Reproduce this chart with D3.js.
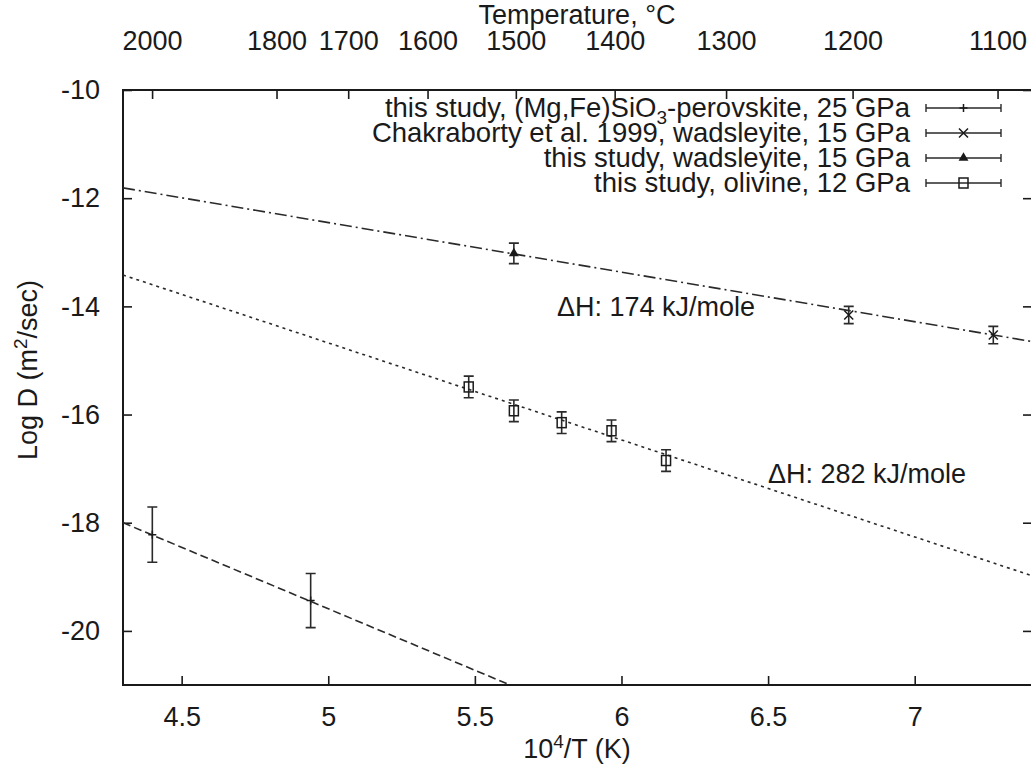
<html>
<head>
<meta charset="utf-8">
<style>
 body { margin: 0; background: #fff; }
 svg { font-family: "Liberation Sans", Arial, Helvetica, sans-serif; }
 .ax text { font-size: 27px; fill: #1a1a1a; }
 .ax path { display: none; }
 .ax line { stroke: #1a1a1a; stroke-width: 1.6; }
</style>
<script src="https://cdn.jsdelivr.net/npm/d3@7"></script>
</head>
<body>
<svg id="chart" width="1031" height="767"></svg>
<script>
// data (x = 10^4/T, y = log D)
var perovX = [4.40, 4.94];
var perovY = [-18.22, -19.44];
var perovErr = [0.51, 0.50];

var chakX = [6.775, 7.268];
var chakY = [-14.16, -14.53];
var chakErr = [0.16, 0.16];

var wadsX = [5.633];
var wadsY = [-13.02];
var wadsErr = [0.19];

var olivX = [5.479, 5.633, 5.796, 5.966, 6.152];
var olivY = [-15.49, -15.93, -16.15, -16.30, -16.85];
var olivErr = [0.20, 0.20, 0.20, 0.20, 0.20];

// fitted lines, end points
var perovFitX = [4.3, 5.62], perovFitY = [-18.0, -21.0];
var wadsFitX = [4.3, 7.4], wadsFitY = [-11.81, -14.65];
var olivFitX = [4.3, 7.4], olivFitY = [-13.42, -18.98];

var xTicks = [4.5, 5, 5.5, 6, 6.5, 7];
var yTicks = [-10, -12, -14, -16, -18, -20];
var tempTicks = [2000, 1800, 1700, 1600, 1500, 1400, 1300, 1200, 1100];

var legendLabels = [
  'this study, (Mg,Fe)SiO<sub>3</sub>-perovskite, 25 GPa',
  'Chakraborty et al. 1999, wadsleyite, 15 GPa',
  'this study, wadsleyite, 15 GPa',
  'this study, olivine, 12 GPa'
];

var mLeft = 123, mRight = 1032, mTop = 90, mBottom = 685;
var ink = '#1a1a1a';

var svg = d3.select('#chart');
var x = d3.scaleLinear().domain([4.3, 7.4]).range([mLeft, mRight]);
var y = d3.scaleLinear().domain([-10, -21]).range([mTop, mBottom]);
function invT(c) { return 1e4 / (c + 273.15); }

svg.append('defs').append('clipPath').attr('id', 'plotclip')
   .append('rect').attr('x', mLeft).attr('y', mTop)
   .attr('width', mRight - mLeft).attr('height', mBottom - mTop);

// axes, ticks pointing inward
svg.append('g').attr('class', 'ax').attr('transform', 'translate(0,' + mBottom + ')')
   .call(d3.axisBottom(x).tickValues(xTicks).tickSizeInner(-9).tickPadding(22)
     .tickFormat(String));
svg.append('g').attr('class', 'ax').attr('transform', 'translate(' + mLeft + ',0)')
   .call(d3.axisLeft(y).tickValues(yTicks).tickSizeInner(-9).tickPadding(23)
     .tickFormat(String));
svg.append('g').attr('class', 'ax').attr('transform', 'translate(' + mRight + ',0)')
   .call(d3.axisRight(y).tickValues(yTicks).tickSizeInner(-9).tickFormat(''));
var topAx = d3.axisTop(x).tickValues(tempTicks.map(invT)).tickSizeInner(-9).tickPadding(40)
   .tickFormat(function(d, i) { return tempTicks[i]; });
svg.append('g').attr('class', 'ax').attr('transform', 'translate(0,' + mTop + ')').call(topAx);

svg.append('rect').attr('x', mLeft).attr('y', mTop)
   .attr('width', mRight - mLeft).attr('height', mBottom - mTop)
   .attr('fill', 'none').attr('stroke', ink).attr('stroke-width', 2);

// axis titles
svg.append('text').attr('x', (mLeft + 1031) / 2).attr('y', 24).attr('text-anchor', 'middle')
   .style('font-size', '27px').attr('fill', ink).text('Temperature, \u00B0C');
var xt = svg.append('text').attr('x', (mLeft + 1031) / 2).attr('y', 758).attr('text-anchor', 'middle')
   .style('font-size', '27px').attr('fill', ink);
xt.append('tspan').text('10');
xt.append('tspan').attr('dy', -10).style('font-size', '19px').text('4');
xt.append('tspan').attr('dy', 10).text('/T (K)');
var yt = svg.append('text').attr('transform', 'translate(37,370) rotate(-90)').attr('text-anchor', 'middle')
   .style('font-size', '27px').attr('fill', ink);
yt.append('tspan').text('Log D (m');
yt.append('tspan').attr('dy', -10).style('font-size', '19px').text('2');
yt.append('tspan').attr('dy', 10).text('/sec)');

// fit lines
var plot = svg.append('g').attr('clip-path', 'url(#plotclip)');
var line = d3.line().x(function(d) { return x(d[0]); }).y(function(d) { return y(d[1]); });
function fit(xs, ys, dash) {
  plot.append('path').datum(d3.zip(xs, ys)).attr('d', line)
      .attr('fill', 'none').attr('stroke', '#2a2a2a').attr('stroke-width', 1.6)
      .attr('stroke-dasharray', dash);
}
fit(wadsFitX, wadsFitY, '12,4,2,4');
fit(olivFitX, olivFitY, '3,4');
fit(perovFitX, perovFitY, '8,4');

// markers
function marker(g, kind, cx, cy) {
  if (kind == 'plus') {
    g.append('path').attr('d', 'M' + (cx - 4) + ',' + cy + 'h8M' + cx + ',' + (cy - 4) + 'v8')
     .attr('stroke', ink).attr('stroke-width', 1.5);
  } else if (kind == 'cross') {
    g.append('path').attr('d', 'M' + (cx - 4.5) + ',' + (cy - 4.5) + 'l9,9M' + (cx - 4.5) + ',' + (cy + 4.5) + 'l9,-9')
     .attr('stroke', ink).attr('stroke-width', 1.5);
  } else if (kind == 'tri') {
    g.append('path').attr('d', d3.symbol(d3.symbolTriangle, 42)()).attr('transform', 'translate(' + cx + ',' + cy + ')')
     .attr('fill', ink);
  } else if (kind == 'square') {
    g.append('rect').attr('x', cx - 4.5).attr('y', cy - 5).attr('width', 9).attr('height', 10)
     .attr('fill', 'none').attr('stroke', ink).attr('stroke-width', 1.5);
  }
}
function series(xs, ys, errs, kind, cap) {
  var g = svg.append('g');
  xs.forEach(function(xv, i) {
    var cx = x(xv), y1 = y(ys[i] + errs[i]), y2 = y(ys[i] - errs[i]);
    g.append('path').attr('d', 'M' + cx + ',' + y1 + 'V' + y2 +
        'M' + (cx - cap) + ',' + y1 + 'h' + 2 * cap + 'M' + (cx - cap) + ',' + y2 + 'h' + 2 * cap)
     .attr('fill', 'none').attr('stroke', '#2a2a2a').attr('stroke-width', 1.6);
    marker(g, kind, cx, y(ys[i]));
  });
}
series(perovX, perovY, perovErr, 'plus', 5);
series(chakX, chakY, chakErr, 'cross', 5);
series(wadsX, wadsY, wadsErr, 'tri', 5);
series(olivX, olivY, olivErr, 'square', 5);

// legend
var kinds = ['plus', 'cross', 'tri', 'square'];
var leg = svg.append('g');
legendLabels.forEach(function(lab, i) {
  var ly = 108 + i * 25;
  var t = leg.append('text').attr('x', 910).attr('y', ly + 9).attr('text-anchor', 'end')
     .style('font-size', '27.5px').attr('fill', ink);
  var parts = lab.split(/<sub>|<\/sub>/);
  t.append('tspan').text(parts[0]);
  if (parts.length > 1) {
    t.append('tspan').attr('dy', 7).style('font-size', '19px').text(parts[1]);
    t.append('tspan').attr('dy', -7).text(parts[2]);
  }
  leg.append('path').attr('d', 'M926,' + ly + 'H1001M926,' + (ly - 4) + 'v8M1001,' + (ly - 4) + 'v8')
     .attr('stroke', '#2a2a2a').attr('stroke-width', 1.4).attr('fill', 'none');
  marker(leg, kinds[i], 963.5, ly);
});

// activation energy labels
svg.append('text').attr('x', 557).attr('y', 316).style('font-size', '27px').attr('fill', ink)
   .text('\u0394H: 174 kJ/mole');
svg.append('text').attr('x', 768).attr('y', 483).style('font-size', '27px').attr('fill', ink)
   .text('\u0394H: 282 kJ/mole');
</script>
</body>
</html>
